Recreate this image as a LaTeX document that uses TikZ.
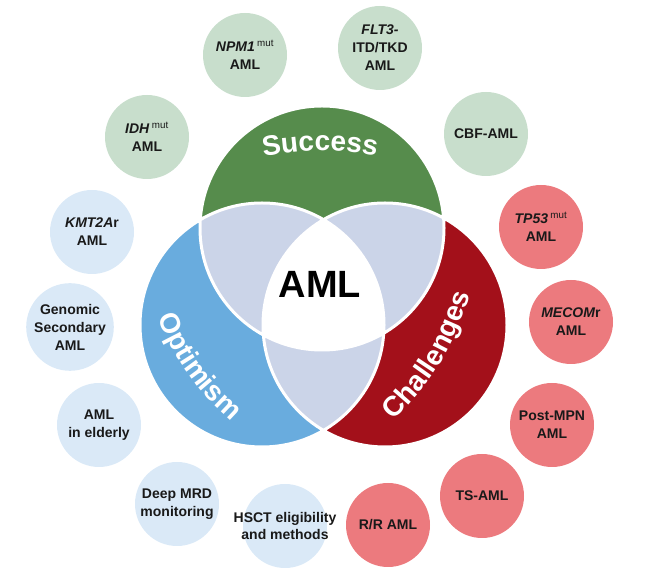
\documentclass[tikz,border=0pt]{standalone}
\usepackage{fontspec}
\setmainfont{Liberation Sans}
\usepackage{xcolor}
\usepackage{tikz}
\usetikzlibrary{decorations.text}

\definecolor{succgreen}{RGB}{86,140,76}
\definecolor{optblue}{RGB}{105,172,222}
\definecolor{chalred}{RGB}{163,16,26}
\definecolor{overlap}{RGB}{203,212,232}
\definecolor{satgreenfill}{RGB}{200,222,204}
\definecolor{satbluefill}{RGB}{218,233,247}
\definecolor{satredfill}{RGB}{236,122,126}

\begin{document}
\begin{tikzpicture}[x=1pt, y=1pt,
    sat/.style={circle, minimum size=84pt, inner sep=1pt, align=center,
        font=\fontsize{14}{18}\selectfont\bfseries, text=black!90},
    satg/.style={sat, fill=satgreenfill},
    satb/.style={sat, fill=satbluefill},
    satr/.style={sat, fill=satredfill},
    arclabel/.style={decorate, decoration={text along path, text align=center,
        text={|\fontsize{28}{28}\selectfont\bfseries\color{white}|#1}}}]
\useasboundingbox (0,0) rectangle (648,578);

\coordinate (gc) at (322,350);
\coordinate (bc) at (262,253);
\coordinate (rc) at (385,253);

\fill[succgreen] (gc) circle (122pt);
\fill[optblue] (bc) circle (122pt);
\fill[chalred] (rc) circle (122pt);
\begin{scope}
    \clip (gc) circle (122pt);
    \fill[overlap] (bc) circle (122pt);
    \fill[overlap] (rc) circle (122pt);
\end{scope}
\begin{scope}
    \clip (bc) circle (122pt);
    \fill[overlap] (rc) circle (122pt);
\end{scope}
\begin{scope}
    \clip (gc) circle (122pt);
    \clip (bc) circle (122pt);
    \fill[white] (rc) circle (122pt);
\end{scope}
\draw[white, line width=3pt] (gc) circle (122pt) (bc) circle (122pt) (rc) circle (122pt);

\node (aml) at (320,294) {\fontsize{38}{38}\selectfont\bfseries AML};

\path[arclabel=Success] (245,418) to[bend left=12] (395,418);
\path[arclabel=Optimism] (152,276) to[bend right=15] (244,146);
\path[arclabel=Challenges] (384,148) to[bend right=15] (474,296);

\node (npm) [satg] at (245,523) {\textit{NPM1}\,\textsuperscript{\mdseries mut}\\AML};
\node (flt) [satg] at (380,530) {\textit{FLT3-}\\ITD/TKD\\AML};
\node (idh) [satg] at (147,441) {\textit{IDH}\,\textsuperscript{\mdseries mut}\\AML};
\node (cbf) [satg] at (486,444) {CBF-AML};

\node (kmt) [satb] at (92,346) {\textit{KMT2A}r\\AML};
\node (gen) [satb] at (70,251) {Genomic\\Secondary\\AML};
\node (eld) [satb] at (99,153) {AML\\in elderly};
\node (mrd) [satb] at (177,74) {Deep MRD\\monitoring};
\node (hsct) [satb, inner sep=-14pt, font=\fontsize{14}{17}\selectfont\bfseries] at (285,52) {HSCT eligibility\\and methods};

\node (tp) [satr] at (541,351) {\textit{TP53}\,\textsuperscript{\mdseries mut}\\AML};
\node (mecom) [satr] at (571,256) {\textit{MECOM}r\\AML};
\node (mpn) [satr] at (552,153) {Post-MPN\\AML};
\node (ts) [satr] at (482,82) {TS-AML};
\node (rr) [satr] at (388,53) {R/R AML};
\end{tikzpicture}
\end{document}
